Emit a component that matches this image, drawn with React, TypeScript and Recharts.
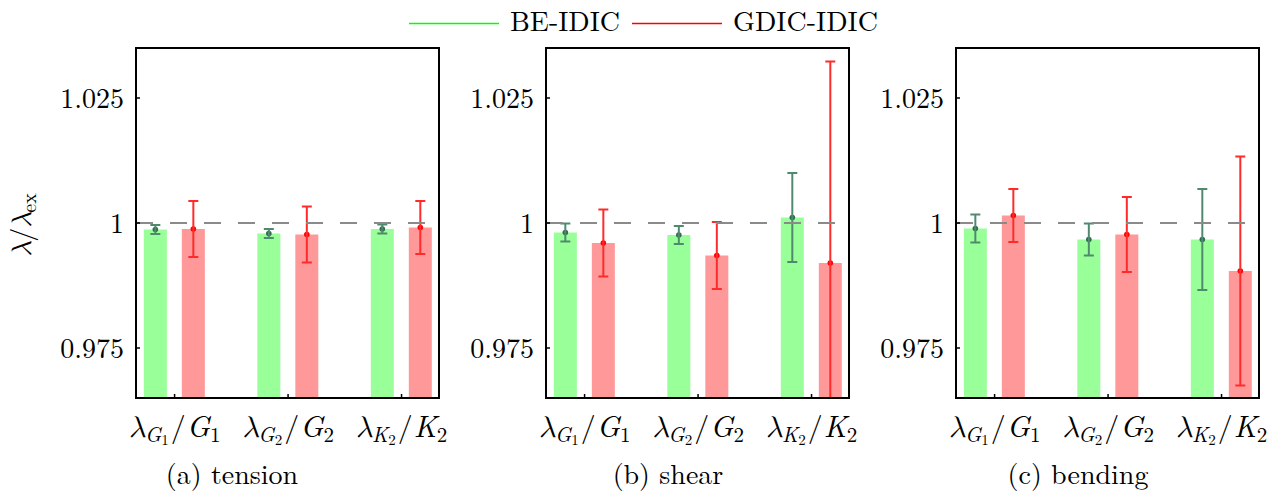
import React from "react";
import { ComposedChart, Bar, XAxis, YAxis, ErrorBar, ReferenceLine } from "recharts";

// ---------- data ----------
const categoryPositions = [1, 2, 3];
const paramSymbols = ["G", "G", "K"];
const paramIndices = ["1", "2", "2"];

const tensionBE = [0.9987, 0.9979, 0.9988];
const tensionBEErr = [0.0009, 0.0009, 0.0009];
const tensionGD = [0.9988, 0.9977, 0.9991];
const tensionGDErr = [0.0056, 0.0056, 0.0053];

const shearBE = [0.9981, 0.9976, 1.0011];
const shearBEErr = [0.0018, 0.0018, 0.0089];
const shearGD = [0.996, 0.9935, 0.992];
const shearGDErr = [0.0067, 0.0067, 0.0403];

const bendingBE = [0.9989, 0.9967, 0.9967];
const bendingBEErr = [0.0028, 0.0032, 0.0101];
const bendingGD = [1.0015, 0.9977, 0.9904];
const bendingGDErr = [0.0053, 0.0075, 0.0229];

const yTicks = [0.975, 1, 1.025];
const yDomain: [number, number] = [0.965, 1.035];
const xDomain: [number, number] = [0.66, 3.33];

const seriesNames = ["BE-IDIC", "GDIC-IDIC"];
const captions = ["(a) tension", "(b) shear", "(c) bending"];

// ---------- styles ----------
const SERIF = "Latin Modern Roman";
const MATH = "Latin Modern Math";
const BE_FILL = "#99ff99";
const GD_FILL = "#ff9999";
const BE_DOT = "#2f6b50";
const BE_ERR = "#4f8a6e";
const GD_DOT = "#ff0000";
const GD_ERR = "#ff2a2a";
const frameLine = { stroke: "#000", strokeWidth: 2, strokeLinecap: "square" as const };
const tickLineStyle = { stroke: "#000", strokeWidth: 1.5 };

// error range limited to the visible y-domain (the reference clips at the frame)
const visibleErr = (v: number, e: number): [number, number] => [
  Math.min(e, v - yDomain[0]),
  Math.min(e, yDomain[1] - v),
];

const makeShape = (dotColor: string) => (props: any) => {
  const { x, y, width, height, fill } = props;
  if (x == null || y == null) return <g />;
  return (
    <g>
      <rect x={x} y={y} width={width} height={height} fill={fill} />
      <circle cx={x + width / 2} cy={y} r={2.8} fill={dotColor} />
    </g>
  );
};
const beShape = makeShape(BE_DOT);
const gdShape = makeShape(GD_DOT);

const XTick = (props: any) => {
  const { x, y, payload } = props;
  const i = categoryPositions.indexOf(payload.value);
  if (i < 0) return <g />;
  return (
    <text x={x} y={y + 43} textAnchor="middle" fontFamily={SERIF} fontSize={30} fill="#000">
      <tspan fontFamily={MATH} fontStyle="italic">λ</tspan>
      <tspan fontStyle="italic" fontSize={21} dy={5}>{paramSymbols[i]}</tspan>
      <tspan fontSize={15} dy={3}>{paramIndices[i]}</tspan>
      <tspan dy={-8} dx={2}>/</tspan>
      <tspan fontStyle="italic" dx={1}>{paramSymbols[i]}</tspan>
      <tspan fontSize={21} dy={5}>{paramIndices[i]}</tspan>
    </text>
  );
};

const YTick = (props: any) => {
  const { x, y, payload } = props;
  return (
    <text x={x} y={y + 10} textAnchor="end" fontFamily={SERIF} fontSize={28} fill="#000">
      {String(payload.value)}
    </text>
  );
};

type PanelProps = {
  left: number;
  be: number[];
  beErr: number[];
  gd: number[];
  gdErr: number[];
};

function Panel({ left, be, beErr, gd, gdErr }: PanelProps) {
  const data = categoryPositions.map((x, i) => ({
    x,
    be: be[i],
    beErr: visibleErr(be[i], beErr[i]),
    gd: gd[i],
    gdErr: visibleErr(gd[i], gdErr[i]),
  }));
  return (
    <div style={{ position: "absolute", left, top: 0 }}>
      <ComposedChart
        width={450}
        height={492}
        data={data}
        margin={{ top: 47, right: 10, bottom: 93, left: 135 }}
        barGap={15}
      >
        <XAxis
          xAxisId="bottom"
          dataKey="x"
          type="number"
          domain={xDomain}
          ticks={categoryPositions}
          allowDataOverflow
          height={1}
          axisLine={frameLine}
          tickLine={tickLineStyle}
          tickSize={-4}
          tickMargin={0}
          interval={0}
          tick={(p: any) => <XTick {...p} />}
        />
        <XAxis
          xAxisId="top"
          orientation="top"
          dataKey="x"
          type="number"
          domain={xDomain}
          ticks={categoryPositions}
          allowDataOverflow
          height={1}
          axisLine={frameLine}
          tickLine={tickLineStyle}
          tickSize={-4}
          interval={0}
          tick={false}
        />
        <YAxis
          yAxisId="left"
          type="number"
          domain={yDomain}
          ticks={yTicks}
          allowDataOverflow
          width={1}
          axisLine={frameLine}
          tickLine={tickLineStyle}
          tickSize={-4}
          tickMargin={16}
          interval={0}
          tick={(p: any) => <YTick {...p} />}
        />
        <YAxis
          yAxisId="right"
          orientation="right"
          type="number"
          domain={yDomain}
          ticks={yTicks}
          allowDataOverflow
          width={1}
          axisLine={frameLine}
          tickLine={tickLineStyle}
          tickSize={-4}
          interval={0}
          tick={false}
        />
        <Bar
          xAxisId="bottom"
          yAxisId="left"
          dataKey="be"
          fill={BE_FILL}
          barSize={23}
          isAnimationActive={false}
          shape={beShape}
        >
          <ErrorBar dataKey="beErr" width={5} stroke={BE_ERR} strokeWidth={2} direction="y" isAnimationActive={false} />
        </Bar>
        <Bar
          xAxisId="bottom"
          yAxisId="left"
          dataKey="gd"
          fill={GD_FILL}
          barSize={23}
          isAnimationActive={false}
          shape={gdShape}
        >
          <ErrorBar dataKey="gdErr" width={5} stroke={GD_ERR} strokeWidth={2} direction="y" isAnimationActive={false} />
        </Bar>
        <ReferenceLine
          xAxisId="bottom"
          yAxisId="left"
          y={1}
          stroke="#8a8a8a"
          strokeWidth={2}
          strokeDasharray="17 17"
        />
      </ComposedChart>
    </div>
  );
}

function Overlay() {
  return (
    <svg
      width={1280}
      height={492}
      style={{ position: "absolute", left: 0, top: 0, pointerEvents: "none" }}
    >
      {/* legend */}
      <line x1={409} x2={499} y1={23.5} y2={23.5} stroke="#00ff00" strokeWidth={1.5} />
      <text x={510} y={31} fontFamily={SERIF} fontSize={28} fill="#000">{seriesNames[0]}</text>
      <line x1={632} x2={722} y1={23.5} y2={23.5} stroke="#ff0000" strokeWidth={1.5} />
      <text x={733} y={31} fontFamily={SERIF} fontSize={28} fill="#000">{seriesNames[1]}</text>
      {/* y-axis title */}
      <text
        transform="translate(31,225) rotate(-90)"
        textAnchor="middle"
        fontFamily={SERIF}
        fontSize={28}
        fill="#000"
      >
        <tspan fontFamily={MATH} fontStyle="italic">λ</tspan>
        <tspan>/</tspan>
        <tspan fontFamily={MATH} fontStyle="italic">λ</tspan>
        <tspan fontSize={20} dy={5}>ex</tspan>
      </text>
      {/* captions */}
      <text x={232} y={484} textAnchor="middle" fontFamily={SERIF} fontSize={28} fill="#000">{captions[0]}</text>
      <text x={668} y={484} textAnchor="middle" fontFamily={SERIF} fontSize={28} fill="#000">{captions[1]}</text>
      <text x={1078} y={484} textAnchor="middle" fontFamily={SERIF} fontSize={28} fill="#000">{captions[2]}</text>
    </svg>
  );
}

export default function App() {
  return (
    <div style={{ position: "absolute", left: 0, top: 0, width: 1280, height: 492, background: "#fff", overflow: "hidden" }}>
      <Panel left={0} be={tensionBE} beErr={tensionBEErr} gd={tensionGD} gdErr={tensionGDErr} />
      <Panel left={410} be={shearBE} beErr={shearBEErr} gd={shearGD} gdErr={shearGDErr} />
      <Panel left={820} be={bendingBE} beErr={bendingBEErr} gd={bendingGD} gdErr={bendingGDErr} />
      <Overlay />
    </div>
  );
}
